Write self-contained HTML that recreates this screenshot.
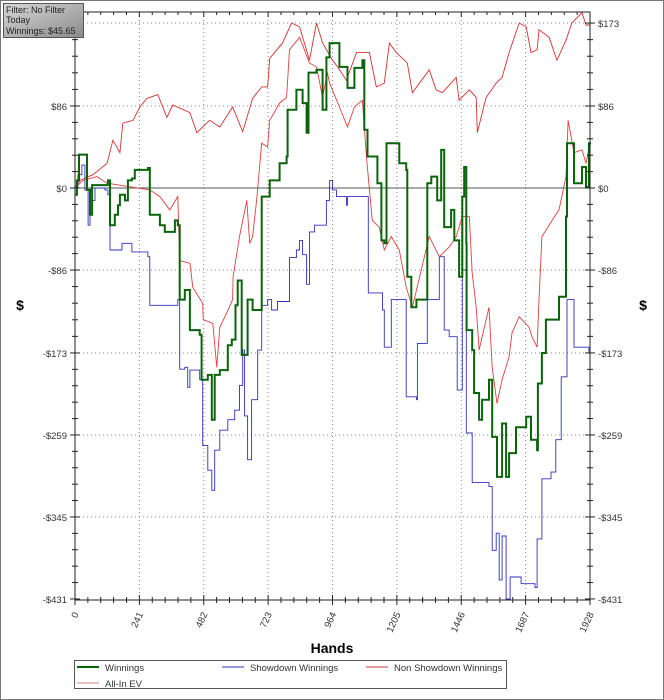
<!DOCTYPE html>
<html><head><meta charset="utf-8"><style>
html,body{margin:0;padding:0;background:#fff;}
svg{display:block;font-family:"Liberation Sans",Arial,sans-serif;}
</style></head><body>
<svg id="chart" width="664" height="700" viewBox="0 0 664 700">
<rect x="0.5" y="0.5" width="663" height="699" fill="#fff" stroke="#777"/>
<g id="grid"></g>
<g id="series"></g>
<g id="axes"></g>
<text x="20" y="310" font-size="14" font-weight="bold" text-anchor="middle">$</text>
<text x="643" y="310" font-size="14" font-weight="bold" text-anchor="middle">$</text>
<text x="332" y="653" font-size="14" font-weight="bold" text-anchor="middle">Hands</text>
<defs><linearGradient id="fg" x1="0" y1="0" x2="1" y2="1"><stop offset="0" stop-color="#d8d8d8"/><stop offset="1" stop-color="#8a8a8a"/></linearGradient></defs>
<g>
<rect x="3.5" y="3.5" width="80" height="34" fill="url(#fg)" stroke="#555"/>
<text x="6" y="13" font-size="9" fill="#222">Filter: No Filter</text>
<text x="6" y="23" font-size="9" fill="#222">Today</text>
<text x="6" y="34" font-size="9" fill="#222">Winnings: $45.65</text>
</g>
<g>
<rect x="74.5" y="660.5" width="432" height="28" fill="#fff" stroke="#555"/>
<g><line x1="77" y1="667" x2="99" y2="667" stroke="#006400" stroke-width="2"/><text x="105" y="671" font-size="9.5" fill="#333">Winnings</text></g>
<g><line x1="222" y1="667" x2="244" y2="667" stroke="#3030c0"/><text x="250" y="671" font-size="9.5" fill="#333">Showdown Winnings</text></g>
<g><line x1="366" y1="667" x2="388" y2="667" stroke="#d03030"/><text x="394" y="671" font-size="9.5" fill="#333">Non Showdown Winnings</text></g>
<g><line x1="77" y1="683" x2="99" y2="683" stroke="#e08080"/><text x="105" y="687" font-size="9.5" fill="#333">All-In EV</text></g>
</g>
</svg>
<script>
const xTicks=[0,241,482,723,964,1205,1446,1687,1928];
const yTicks=[173,86,0,-86,-173,-259,-345,-431];
const winH=[0,7,15,37,45,56,64,93,112,123,131,149,161,168,187,198,213,224,262,273,280,318,336,374,385,392,411,430,467,474,497,512,523,542,572,587,601,609,624,646,665,699,729,766,792,796,829,852,867,874,904,927,941,953,990,1020,1046,1076,1083,1095,1132,1147,1158,1166,1184,1214,1240,1244,1259,1278,1319,1334,1356,1371,1382,1408,1420,1438,1450,1457,1465,1466,1487,1494,1513,1524,1550,1562,1580,1599,1614,1625,1651,1689,1707,1730,1733,1748,1763,1812,1838,1842,1868,1898,1913,1924,1928];
const winV=[-7,8,35,35,-2,-28,3,3,3,8,-39,-28,-18,-7,-13,8,10,19,19,21,-28,-39,-46,-34,-39,-117,-107,-149,-154,-201,-196,-243,-196,-191,-165,-159,-123,-97,-175,-117,-128,-9,8,26,33,82,103,89,58,121,124,82,137,152,127,105,126,134,61,33,5,-55,-58,47,47,26,19,-93,-125,-117,5,12,-13,40,-41,-23,-55,-93,-9,22,-58,-149,-170,-215,-243,-222,-201,-261,-303,-247,-303,-278,-251,-240,-264,-275,-205,-173,-138,-114,-30,47,5,22,1,47,45.65];
const sdH=[0,11,26,37,49,56,75,112,123,131,168,176,206,213,262,273,280,355,385,392,411,422,430,467,478,497,512,523,542,572,598,616,628,635,646,661,684,699,721,736,758,803,829,841,852,867,878,897,934,941,953,964,979,1016,1020,1064,1080,1098,1147,1151,1158,1177,1184,1214,1240,1278,1282,1319,1326,1364,1382,1401,1431,1450,1465,1487,1550,1562,1577,1588,1599,1614,1629,1670,1722,1730,1748,1782,1800,1820,1842,1868,1924,1928];
const sdV=[0,14,24,-2,-39,-13,0,-2,-7,-65,-65,-58,-58,-67,-67,-72,-123,-123,-117,-190,-188,-209,-191,-201,-270,-296,-317,-275,-254,-243,-233,-207,-170,-239,-285,-222,-170,-123,-117,-128,-119,-73,-65,-55,-70,-101,-46,-39,-39,-13,8,-2,-9,-18,-9,-9,-9,-110,-110,-128,-167,-167,-117,-117,-219,-222,-163,-117,-117,-72,-149,-156,-212,-86,-257,-309,-313,-380,-362,-411,-365,-431,-408,-415,-419,-368,-305,-298,-264,-198,-117,-167,-173,-125];
const nsH=[0,19,67,120,142,168,179,217,243,269,310,344,366,430,456,504,542,590,628,665,699,721,729,777,811,841,878,904,927,964,983,1016,1054,1102,1128,1158,1177,1203,1244,1263,1326,1352,1375,1427,1438,1476,1502,1506,1539,1577,1599,1625,1663,1689,1707,1730,1737,1775,1804,1838,1860,1898,1913,1928];
const nsV=[0,8,14,26,50,37,68,71,85,94,98,74,87,79,58,71,64,85,59,94,106,106,136,152,173,169,134,173,152,134,127,113,142,142,106,110,152,142,131,100,124,103,100,116,92,103,95,58,95,110,116,142,173,169,142,145,166,158,134,155,173,184,171,171];
const evH=[0,30,82,120,280,318,355,385,392,430,441,478,480,516,531,542,568,590,592,616,643,654,665,680,699,721,729,766,792,803,841,878,904,927,945,953,990,1020,1046,1076,1091,1113,1139,1158,1184,1214,1240,1263,1326,1364,1401,1427,1450,1476,1487,1502,1513,1550,1562,1580,1599,1625,1636,1663,1700,1711,1730,1737,1748,1786,1812,1838,1846,1868,1898,1913,1928];
const evV=[0,8,12,5,-2,-9,-23,-9,-76,-79,-104,-121,-138,-142,-188,-146,-131,-117,-93,-51,-13,-58,-51,-13,47,43,71,89,95,145,158,131,127,95,121,110,85,64,85,92,33,-34,-41,-65,-51,-65,-104,-125,-51,-72,-62,-51,-30,-30,-89,-125,-170,-125,-188,-226,-201,-177,-152,-135,-146,-156,-167,-117,-51,-34,-23,12,71,37,40,26,47];

const X0=75,X1=590,Y0=188,PPD=0.9535,TOP=12,BOT=600;
function xs(h){return X0+(h/1928)*(X1-X0);}
function ys(v){return Y0-v*PPD;}
const NS='http://www.w3.org/2000/svg';
function mk(tag,attrs,parent){const e=document.createElementNS(NS,tag);for(const k in attrs)e.setAttribute(k,attrs[k]);parent.appendChild(e);return e;}
const grid=document.getElementById('grid'),axes=document.getElementById('axes'),ser=document.getElementById('series');
xTicks.forEach((t,i)=>{
  const x=xs(t);
  if(i>0&&i<xTicks.length-1){const l=mk('line',{x1:x,y1:TOP,x2:x,y2:BOT,stroke:'#888','stroke-dasharray':'1,3'},grid);
  
  }
  mk('line',{x1:x,y1:BOT-5,x2:x,y2:BOT+5,stroke:'#222'},axes);
  mk('line',{x1:x,y1:TOP,x2:x,y2:TOP+5,stroke:'#222'},axes);
  if(i<xTicks.length-1){for(let k=1;k<5;k++){const xm=xs(t+241*k/5);mk('line',{x1:xm,y1:BOT-3,x2:xm,y2:BOT+3,stroke:'#222'},axes);mk('line',{x1:xm,y1:TOP,x2:xm,y2:TOP+3,stroke:'#222'},axes);}}
  const tx=mk('text',{x:x+4,y:BOT+14,'font-size':'9.5','text-anchor':'end',fill:'#333',transform:`rotate(-65 ${x+4} ${BOT+14})`},axes);
  tx.textContent=t;
  
  
});
yTicks.forEach((t,i)=>{
  const y=ys(t);
  if(t!==0&&i>0&&i<yTicks.length-1){const l=mk('line',{x1:X0,y1:y,x2:X1,y2:y,stroke:'#888','stroke-dasharray':'1,3'},grid);
  
  }
  if(t===173){mk('line',{x1:X0,y1:y,x2:X1,y2:y,stroke:'#888','stroke-dasharray':'1,3'},grid);}
  mk('line',{x1:X0-5,y1:y,x2:X0+5,y2:y,stroke:'#222'},axes);
  mk('line',{x1:X1-5,y1:y,x2:X1+5,y2:y,stroke:'#222'},axes);
  const lab=(t<0?'-$'+(-t):'$'+t);
  const a=mk('text',{x:X0-8,y:y+4,'font-size':'9.5','text-anchor':'end',fill:'#333'},axes);a.textContent=lab;
  
  
  const b=mk('text',{x:X1+8,y:y+4,'font-size':'9.5','text-anchor':'start',fill:'#333'},axes);b.textContent=lab;
  
  
  if(i<yTicks.length-1){const step=(yTicks[i+1]-t)/5;for(let k=1;k<5;k++){const ym=ys(t+step*k);mk('line',{x1:X0-3,y1:ym,x2:X0+3,y2:ym,stroke:'#222'},axes);mk('line',{x1:X1-3,y1:ym,x2:X1+3,y2:ym,stroke:'#222'},axes);}}
});
const z=mk('line',{x1:X0,y1:ys(0),x2:X1,y2:ys(0),stroke:'#555','stroke-width':1},grid);


const fr=mk('rect',{x:X0,y:TOP,width:X1-X0,height:BOT-TOP,fill:'none',stroke:'#222'},axes);


function path(H,V,step){let d='';for(let i=0;i<H.length;i++){const x=xs(H[i]).toFixed(1),y=ys(V[i]).toFixed(1);if(i===0)d='M'+x+','+y;else if(step)d+='H'+x+'V'+y;else d+='L'+x+','+y;}return d;}
const p1=mk('path',{d:path(nsH,nsV,false),fill:'none',stroke:'#d83030','stroke-width':0.9},ser);


const p2=mk('path',{d:path(sdH,sdV,true),fill:'none',stroke:'#3030c0','stroke-width':0.9},ser);


const p3=mk('path',{d:path(evH,evV,false),fill:'none',stroke:'#e04040','stroke-width':0.9},ser);


const p4=mk('path',{d:path(winH,winV,true),fill:'none',stroke:'#0a640a','stroke-width':2},ser);


</script>
</body></html>
